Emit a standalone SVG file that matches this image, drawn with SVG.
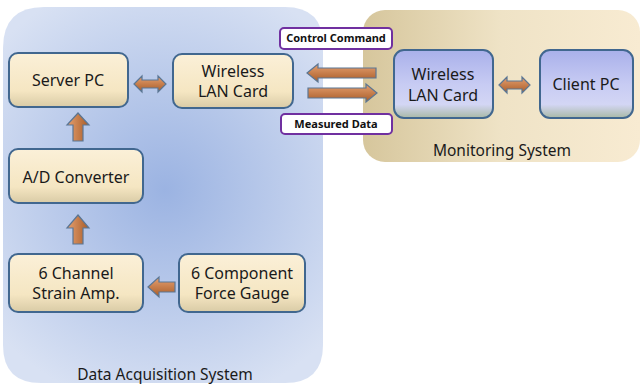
<svg xmlns="http://www.w3.org/2000/svg" width="642" height="385" viewBox="0 0 642 385">
<defs>
<radialGradient id="daqBg" cx="165" cy="190" r="220" gradientUnits="userSpaceOnUse">
<stop offset="0" stop-color="#9bb3e2"/>
<stop offset="1" stop-color="#d8e1f3"/>
</radialGradient>
<linearGradient id="monBg" x1="0" y1="0" x2="1" y2="0">
<stop offset="0" stop-color="#d6c69c"/>
<stop offset="0.5" stop-color="#efe3c6"/>
<stop offset="1" stop-color="#f8ebd2"/>
</linearGradient>
<linearGradient id="cream" x1="0" y1="0" x2="0" y2="1">
<stop offset="0" stop-color="#fbf0d8"/>
<stop offset="0.7" stop-color="#f5e6c2"/>
<stop offset="1" stop-color="#d9cba6"/>
</linearGradient>
<linearGradient id="lav" x1="0" y1="0" x2="0" y2="1">
<stop offset="0" stop-color="#a9b0ea"/>
<stop offset="0.5" stop-color="#c7cbf3"/>
<stop offset="0.8" stop-color="#d3d6f4"/>
<stop offset="1" stop-color="#a9b9a6"/>
</linearGradient>
<linearGradient id="arrH" x1="0" y1="0" x2="0" y2="1">
<stop offset="0" stop-color="#e6a070"/>
<stop offset="1" stop-color="#a85c28"/>
</linearGradient>
<linearGradient id="arrV" x1="0" y1="0" x2="1" y2="0">
<stop offset="0" stop-color="#e6a070"/>
<stop offset="1" stop-color="#a85c28"/>
</linearGradient>
</defs>
<style>
.t{font-family:"Noto Sans","Open Sans","Liberation Sans",sans-serif;font-size:16px;fill:#1a1a1a;text-anchor:middle}
.lbl{font-family:"Noto Sans","Liberation Sans",sans-serif;font-size:11px;font-weight:bold;fill:#111;text-anchor:middle}
.box{fill:url(#cream);stroke:#41678f;stroke-width:2}
.boxb{fill:url(#lav);stroke:#41678f;stroke-width:2}
.tag{fill:#fff;stroke:#7030a0;stroke-width:2}
.ah{fill:url(#arrH);stroke:#5b7693;stroke-width:1.2}
.av{fill:url(#arrV);stroke:#5b7693;stroke-width:1.2}
</style>
<g id="daq-system">
<path d="M3,48 Q3,7 44,7 L285,7 Q323,7 323,45 L323,345 Q323,383 285,383 L41,383 Q3,383 3,345 Z" fill="url(#daqBg)"/>
<text class="t" x="165" y="380" style="font-size:15.5px">Data Acquisition System</text>
</g>
<g id="monitoring-system">
<rect x="363" y="10" width="277" height="152" rx="22" fill="url(#monBg)"/>
<text class="t" x="502" y="156" style="font-size:15.5px">Monitoring System</text>
</g>
<g id="server-pc">
<rect class="box" x="9" y="53" width="119" height="54" rx="9"/>
<text class="t" x="68" y="86">Server PC</text>
</g>
<g id="wlan-left">
<rect class="box" x="173" y="54" width="120" height="54" rx="9"/>
<text class="t" x="233" y="77">Wireless</text>
<text class="t" x="233" y="97">LAN Card</text>
</g>
<g id="ad-converter">
<rect class="box" x="9" y="149" width="134" height="54" rx="9"/>
<text class="t" x="76" y="183">A/D Converter</text>
</g>
<g id="strain-amp">
<rect class="box" x="9" y="254" width="134" height="58" rx="9"/>
<text class="t" x="76" y="279">6 Channel</text>
<text class="t" x="76" y="299">Strain Amp.</text>
</g>
<g id="force-gauge">
<rect class="box" x="179" y="254" width="126" height="58" rx="9"/>
<text class="t" x="242" y="279">6 Component</text>
<text class="t" x="242" y="299">Force Gauge</text>
</g>
<g id="wlan-right">
<rect class="boxb" x="394" y="50" width="99" height="68" rx="10"/>
<text class="t" x="443" y="80">Wireless</text>
<text class="t" x="443" y="101">LAN Card</text>
</g>
<g id="client-pc">
<rect class="boxb" x="540" y="50" width="93" height="68" rx="10"/>
<text class="t" x="586" y="90">Client PC</text>
</g>
<g id="tag-control">
<rect class="tag" x="280" y="28" width="112" height="21" rx="4"/>
<text class="lbl" x="336" y="42">Control Command</text>
</g>
<g id="tag-measured">
<rect class="tag" x="281" y="114" width="111" height="20" rx="4"/>
<text class="lbl" x="336" y="128">Measured Data</text>
</g>
<g id="connectors">
<polygon class="ah" points="134,84 142,76 142,80 158,80 158,76 166,84 158,92 158,88 142,88 142,92"/>
<polygon class="ah" points="499,85 507,77 507,81 522,81 522,77 530,85 522,93 522,89 507,89 507,93"/>
<polygon class="ah" points="307,73 318,64 318,68 376,68 376,78 318,78 318,82"/>
<polygon class="ah" points="377,93 366,84 366,88 308,88 308,98 366,98 366,102"/>
<polygon class="av" points="78,113 89,125 83,125 83,141 73,141 73,125 67,125"/>
<polygon class="av" points="78,215 89,228 83,228 83,244 73,244 73,228 67,228"/>
<polygon class="ah" points="148,287 159,277 159,282 175,282 175,292 159,292 159,297"/>
</g>
</svg>
